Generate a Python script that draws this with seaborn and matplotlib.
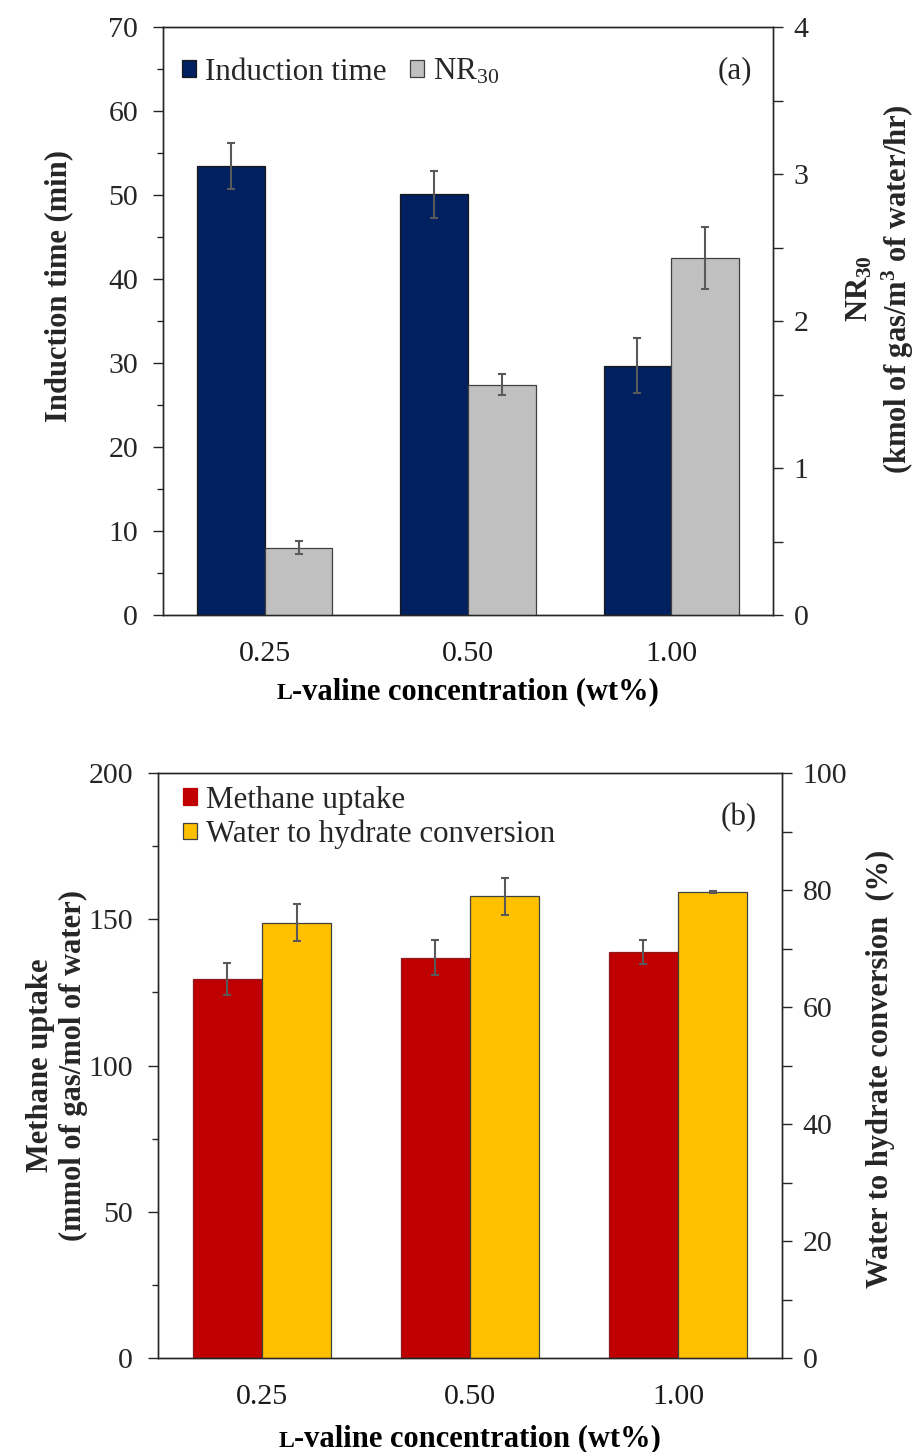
import numpy as np
import pandas as pd
import matplotlib
matplotlib.use("Agg")
import matplotlib.pyplot as plt
import seaborn as sns
from matplotlib.patches import Patch
from matplotlib.ticker import MultipleLocator
from matplotlib.offsetbox import TextArea, HPacker, AnchoredOffsetbox

# ---------------- data ----------------
concentrations = ["0.25", "0.50", "1.00"]

induction_time = [53.5, 50.1, 29.7]
induction_err = [2.75, 2.8, 3.3]
nr30 = [0.457, 1.567, 2.43]
nr30_err = [0.045, 0.07, 0.21]

methane_uptake = [129.6, 136.8, 138.8]
methane_err = [5.5, 6.0, 4.0]
water_conversion = [74.4, 78.9, 79.7]
water_err = [3.2, 3.2, 0.15]

# ---------------- style ----------------
sns.set_theme(style="white")
plt.rcParams["font.family"] = ["Liberation Serif", "DejaVu Serif"]
plt.rcParams["mathtext.fontset"] = "custom"
plt.rcParams["mathtext.rm"] = "Liberation Serif"
plt.rcParams["mathtext.bf"] = "Liberation Serif:bold"
plt.rcParams["mathtext.it"] = "Liberation Serif:italic"

TICK_FS = 21.5
LABEL_FS = 22
LEG_FS = 22.3
SPINE_C = "#262626"
ERR_C = "#595959"

NAVY = "#002060"
GREY = "#C0C0C0"
RED = "#C00000"
YELLOW = "#FFC000"

fig = plt.figure(figsize=(9.17, 14.52), dpi=100)


def make_df(vals1, name1, vals2, name2, which):
    nan = [np.nan] * len(concentrations)
    v1 = vals1 if which == 1 else nan
    v2 = vals2 if which == 2 else nan
    return pd.DataFrame({
        "conc": concentrations * 2,
        "value": list(v1) + list(v2),
        "series": [name1] * len(concentrations) + [name2] * len(concentrations),
    })


def draw_panel(ax, vals1, err1, name1, c1, ec1, vals2, err2, name2, c2, ec2):
    ax2 = ax.twinx()
    order = [name1, name2]
    pal = {name1: c1, name2: c2}
    sns.barplot(data=make_df(vals1, name1, vals2, name2, 1), x="conc", y="value",
                hue="series", hue_order=order, palette=pal, order=concentrations,
                width=0.667, errorbar=None, ax=ax, legend=False, edgecolor=ec1,
                linewidth=0.9, saturation=1)
    sns.barplot(data=make_df(vals1, name1, vals2, name2, 2), x="conc", y="value",
                hue="series", hue_order=order, palette=pal, order=concentrations,
                width=0.667, errorbar=None, ax=ax2, legend=False, edgecolor=ec2,
                linewidth=0.9, saturation=1)
    for a, errs in ((ax, err1), (ax2, err2)):
        bars = [p for p in a.patches if np.isfinite(p.get_height()) and p.get_height() > 0]
        bars.sort(key=lambda p: p.get_x())
        xs = [p.get_x() + p.get_width() / 2 for p in bars]
        hs = [p.get_height() for p in bars]
        a.errorbar(xs, hs, yerr=errs, fmt="none", ecolor=ERR_C, elinewidth=1.5,
                   capsize=3, capthick=1.5, zorder=5)
    ax.set_xlim(-0.5, 2.5)
    ax.set_xlabel("")
    ax.set_ylabel("")
    ax2.set_ylabel("")
    for a in (ax, ax2):
        for s in a.spines.values():
            s.set_color(SPINE_C)
            s.set_linewidth(1.0)
    ax.tick_params(axis="x", length=0, pad=19, labelsize=TICK_FS, colors="#1a1a1a")
    ax.tick_params(axis="y", which="major", direction="out", length=7, width=1,
                   labelsize=TICK_FS, pad=11, color=SPINE_C, left=True)
    ax.tick_params(axis="y", which="minor", direction="out", length=4.5, width=1,
                   color=SPINE_C, left=True)
    ax2.tick_params(axis="y", which="major", direction="out", length=7, width=1,
                    labelsize=TICK_FS, pad=8, color=SPINE_C, right=True)
    ax2.tick_params(axis="y", which="minor", direction="out", length=7, width=1,
                    color=SPINE_C, right=True)
    return ax2


def small_caps_xlabel(ax, y):
    t1 = TextArea("L", textprops=dict(fontsize=LABEL_FS * 0.78, fontweight="bold",
                                      family="Liberation Serif", color="black"))
    t2 = TextArea("-valine concentration (wt%)",
                  textprops=dict(fontsize=LABEL_FS, fontweight="bold",
                                 family="Liberation Serif", color="black"))
    box = HPacker(children=[t1, t2], align="baseline", pad=0, sep=0)
    anc = AnchoredOffsetbox(loc="upper center", child=box, pad=0, frameon=False,
                            bbox_to_anchor=(0.5, y), bbox_transform=ax.transAxes,
                            borderpad=0)
    ax.add_artist(anc)


# ---------------- panel (a) ----------------
axa = fig.add_axes([163 / 917, 1 - 615 / 1452, (773 - 163) / 917, (615 - 27) / 1452])
axa2 = draw_panel(axa, induction_time, induction_err, "Induction time", NAVY, "#1a1a1a",
                  nr30, nr30_err, "NR30", GREY, "#404040")
axa.set_ylim(0, 70)
axa.yaxis.set_major_locator(MultipleLocator(10))
axa.yaxis.set_minor_locator(MultipleLocator(5))
axa2.set_ylim(0, 4)
axa2.yaxis.set_major_locator(MultipleLocator(1))
axa2.yaxis.set_minor_locator(MultipleLocator(0.5))

axa.set_ylabel("Induction time (min)", fontsize=LABEL_FS, fontweight="bold")
axa.yaxis.set_label_coords(-0.148, 0.56)
axa2.set_ylabel("NR$_{\\mathbf{30}}$\n(kmol of gas/m$^{\\mathbf{3}}$ of water/hr)",
                fontsize=LABEL_FS, fontweight="bold", rotation=90, linespacing=1.2)
axa2.yaxis.set_label_coords(1.118, 0.555)
small_caps_xlabel(axa, -0.105)

handles_a = [Patch(facecolor=NAVY, edgecolor="#1a1a1a", linewidth=0.9, label="Induction time"),
             Patch(facecolor=GREY, edgecolor="#404040", linewidth=0.9, label="NR$_{30}$")]
axa.legend(handles=handles_a, loc="upper left", ncol=2, frameon=False,
           fontsize=LEG_FS, handlelength=0.45, handleheight=0.45, handletextpad=0.3,
           columnspacing=0.75, borderaxespad=0.2, bbox_to_anchor=(0.0, 0.98))
axa.text(0.965, 0.925, "(a)", transform=axa.transAxes, fontsize=LEG_FS,
         ha="right", va="center")

# ---------------- panel (b) ----------------
axb = fig.add_axes([158 / 917, 1 - 1358 / 1452, (782 - 158) / 917, (1358 - 773) / 1452])
axb2 = draw_panel(axb, methane_uptake, methane_err, "Methane uptake", RED, "#8c1a1a",
                  water_conversion, water_err, "Water to hydrate conversion", YELLOW, "#404040")
axb.set_ylim(0, 200)
axb.yaxis.set_major_locator(MultipleLocator(50))
axb.yaxis.set_minor_locator(MultipleLocator(25))
axb2.set_ylim(0, 100)
axb2.yaxis.set_major_locator(MultipleLocator(20))
axb2.yaxis.set_minor_locator(MultipleLocator(10))

axb.set_ylabel("Methane uptake\n(mmol of gas/mol of water)", fontsize=LABEL_FS,
               fontweight="bold", linespacing=1.2)
axb.yaxis.set_label_coords(-0.112, 0.5)
axb2.set_ylabel("Water to hydrate conversion  (%)", fontsize=LABEL_FS,
                fontweight="bold", rotation=90)
axb2.yaxis.set_label_coords(1.135, 0.494)
small_caps_xlabel(axb, -0.114)

handles_b = [Patch(facecolor=RED, edgecolor=RED, linewidth=0.9, label="Methane uptake"),
             Patch(facecolor=YELLOW, edgecolor="#404040", linewidth=0.9,
                   label="Water to hydrate conversion")]
axb.legend(handles=handles_b, loc="upper left", ncol=1, frameon=False,
           fontsize=LEG_FS, handlelength=0.45, handleheight=0.45, handletextpad=0.3,
           labelspacing=0.15, borderaxespad=0.2, bbox_to_anchor=(0.01, 1.01))
axb.text(0.96, 0.923, "(b)", transform=axb.transAxes, fontsize=LEG_FS,
         ha="right", va="center")

fig.savefig("out.png", dpi=100)
